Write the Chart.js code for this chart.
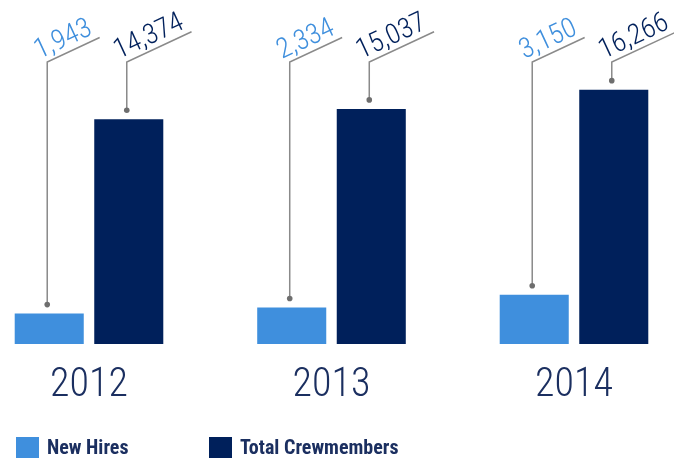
<!DOCTYPE html>
<html>
<head>
<meta charset="utf-8">
<script src="https://cdn.jsdelivr.net/npm/chart.js@4.4.1/dist/chart.umd.min.js"></script>
<style>
  html, body { margin: 0; padding: 0; background: #fff; }
  #wrap { width: 674px; height: 462px; position: relative; }
</style>
</head>
<body>
<div id="wrap"><canvas id="crewChart"></canvas></div>
<script>
const years = ['2012', '2013', '2014'];
const newHires = [1943, 2334, 3150];
const totalCrew = [14374, 15037, 16266];

const FONT = '"Liberation Sans Narrow", "Roboto Condensed", "DejaVu Sans Condensed", sans-serif';
const LIGHT_BLUE = '#3f8fdd';
const NAVY = '#00205b';
const TEXT_NAVY = '#1b2f60';

// slanted value labels with leader lines
const leaderLabels = {
  id: 'leaderLabels',
  afterDatasetsDraw(chart) {
    const ctx = chart.ctx;
    const ang = -25 * Math.PI / 180;
    const ux = Math.cos(ang), uy = Math.sin(ang);
    chart.data.datasets.forEach((ds, di) => {
      const meta = chart.getDatasetMeta(di);
      meta.data.forEach((bar, i) => {
        const x = bar.x - 2;
        const dotY = bar.y - 9;
        const topY = 62;
        const txt = ds.data[i].toLocaleString('en-US');
        ctx.save();
        ctx.font = '300 28px ' + FONT;
        const w = ctx.measureText(txt).width;
        const len = w - 2;
        ctx.strokeStyle = '#8a8a8a';
        ctx.lineWidth = 1.5;
        ctx.beginPath();
        ctx.moveTo(x, dotY);
        ctx.lineTo(x, topY);
        ctx.lineTo(x + ux * len, topY + uy * len);
        ctx.stroke();
        ctx.fillStyle = '#6e6e6e';
        ctx.beginPath();
        ctx.arc(x, dotY, 2.8, 0, Math.PI * 2);
        ctx.fill();
        ctx.translate(x - 6 * Math.sin(-ang) - ux * 6, topY - 6 * Math.cos(ang) - uy * 6);
        ctx.rotate(ang);
        ctx.fillStyle = ds.labelColor;
        ctx.textAlign = 'left';
        ctx.textBaseline = 'alphabetic';
        ctx.fillText(txt, 0, 0);
        ctx.restore();
      });
    });
  }
};

// legend drawn at bottom left
const bottomLegend = {
  id: 'bottomLegend',
  afterDraw(chart) {
    const ctx = chart.ctx;
    const xs = [16, 209];
    ctx.save();
    chart.data.datasets.forEach((ds, di) => {
      ctx.fillStyle = ds.backgroundColor;
      ctx.fillRect(xs[di], 437, 23, 21);
      ctx.fillStyle = TEXT_NAVY;
      ctx.font = 'bold 20px ' + FONT;
      ctx.textBaseline = 'alphabetic';
      ctx.fillText(ds.label, xs[di] + 31, 454);
    });
    ctx.restore();
  }
};

new Chart(document.getElementById('crewChart'), {
  type: 'bar',
  data: {
    labels: years,
    datasets: [{
      label: 'New Hires',
      data: newHires,
      backgroundColor: LIGHT_BLUE,
      labelColor: LIGHT_BLUE,
      clip: false
    }, {
      label: 'Total Crewmembers',
      data: totalCrew,
      backgroundColor: NAVY,
      labelColor: NAVY,
      clip: false
    }]
  },
  options: {
    responsive: true,
    maintainAspectRatio: false,
    animation: false,
    layout: { padding: { left: 89, right: 100, top: 0, bottom: 42 } },
    datasets: { bar: { categoryPercentage: 0.656, barPercentage: 0.868 } },
    scales: {
      x: {
        offset: false,
        grid: { display: false },
        border: { display: false },
        ticks: { color: TEXT_NAVY, font: { family: FONT, size: 40, weight: 300 }, padding: 10, maxRotation: 0 }
      },
      y: { display: false, min: 0, max: 22000 }
    },
    plugins: { legend: { display: false }, tooltip: { enabled: false } }
  },
  plugins: [leaderLabels, bottomLegend]
});
</script>
</body>
</html>
